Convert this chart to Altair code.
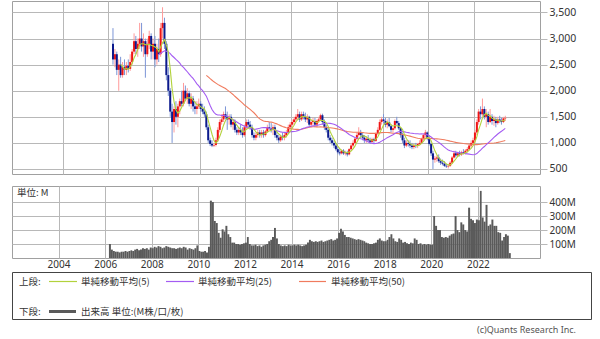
import altair as alt
import pandas as pd

# ---------------- data (monthly, 2006-03 .. 2023-05) ----------------
FIRST_MONTH = "2006-03-01"

OPEN = [
    2900, 2600, 2700, 2400, 2500, 2300, 2450, 2400, 2480, 2420,
    2550, 2750, 2950, 2800, 2900, 3000, 2850, 2950, 2700, 2900, 3050, 2750,
    2900, 2600, 2800, 2700, 3200, 3300, 2900, 2300, 2000, 1600, 1400, 1650,
    1500, 1700, 1800, 1750, 2000, 1850, 1950, 1750, 1850, 1700, 1650, 1700,
    1750, 1650, 1600, 1550, 1300, 1050, 980, 950, 960, 1050, 1250, 1400,
    1450, 1550, 1500, 1450, 1500, 1350, 1400, 1250, 1200, 1250, 1200, 1150,
    1300, 1400, 1350, 1300, 1150, 1100, 1150, 1200, 1150, 1200, 1150, 1220,
    1300, 1280, 1250, 1300, 1150, 1100, 1050, 1120, 1100, 1150, 1200, 1300,
    1350, 1400, 1450, 1500, 1550, 1450, 1550, 1500, 1450, 1500, 1350, 1400,
    1420, 1350, 1420, 1450, 1530, 1400, 1300, 1250, 1100, 1050, 1000, 950,
    880, 820, 800, 850, 800, 820, 780, 880, 950, 1000, 1080, 1150,
    1200, 1150, 1100, 1050, 1080, 1050, 1020, 1070, 1040, 1180, 1250, 1400,
    1450, 1420, 1350, 1400, 1320, 1250, 1280, 1420, 1380, 1280, 1150, 1050,
    950, 1000, 980, 950, 920, 950, 940, 980, 1000, 1080, 1150, 1200,
    1080, 980, 800, 680, 700, 720, 650, 620, 600, 560, 550, 560,
    620, 720, 800, 760, 800, 780, 820, 800, 850, 880, 950, 1000,
    1050, 1200, 1400, 1600, 1550, 1650, 1500, 1550, 1400, 1500, 1420, 1450,
    1380, 1450, 1420, 1400, 1470,
]
HIGH = [
    3200, 2800, 2750, 2600, 2650, 2550, 2600, 2550, 2600, 2700,
    2800, 3100, 3050, 3000, 3300, 3300, 3100, 3000, 3000, 3150, 3100, 3000,
    3050, 2900, 3000, 3300, 3600, 3400, 2950, 2450, 2050, 1750, 1700, 1800,
    1750, 1850, 2000, 2150, 2100, 2050, 2000, 1950, 1900, 1800, 1800, 1850,
    1800, 1750, 1700, 1600, 1350, 1100, 1050, 1000, 1100, 1300, 1450, 1550,
    1600, 1700, 1600, 1550, 1550, 1450, 1450, 1300, 1300, 1350, 1300, 1350,
    1450, 1450, 1420, 1350, 1200, 1200, 1250, 1250, 1250, 1250, 1250, 1350,
    1400, 1380, 1350, 1350, 1250, 1150, 1150, 1200, 1200, 1250, 1350, 1400,
    1450, 1500, 1550, 1650, 1600, 1600, 1600, 1580, 1550, 1520, 1450, 1480,
    1480, 1450, 1500, 1560, 1560, 1450, 1350, 1300, 1150, 1100, 1050, 1000,
    920, 880, 870, 880, 850, 850, 900, 1000, 1050, 1100, 1200, 1300,
    1250, 1200, 1150, 1120, 1150, 1100, 1100, 1100, 1200, 1300, 1450, 1500,
    1550, 1480, 1450, 1480, 1350, 1300, 1450, 1500, 1420, 1300, 1200, 1100,
    1050, 1050, 1050, 1000, 980, 1000, 1000, 1050, 1100, 1180, 1250, 1220,
    1150, 1000, 850, 750, 760, 780, 700, 680, 650, 600, 600, 650,
    750, 850, 850, 830, 850, 850, 880, 880, 920, 980, 1050, 1100,
    1250, 1450, 1650, 1700, 1850, 1700, 1650, 1600, 1650, 1550, 1520, 1500,
    1500, 1520, 1480, 1500, 1520,
]
LOW = [
    2500, 2450, 2300, 2000, 2250, 2250, 2300, 2300, 2350, 2380,
    2500, 2700, 2700, 2650, 2800, 2750, 2650, 2250, 2650, 2800, 2600, 2600,
    2450, 2500, 2550, 2650, 3000, 2800, 2200, 1900, 1500, 1000, 1200, 1350,
    1300, 1550, 1700, 1700, 1800, 1750, 1700, 1650, 1600, 1550, 1550, 1650,
    1600, 1550, 1500, 1250, 1000, 940, 920, 920, 930, 1020, 1200, 1350,
    1400, 1450, 1250, 1350, 1300, 1250, 1200, 1150, 1150, 1150, 1100, 1120,
    1250, 1300, 1250, 1100, 1050, 1050, 1100, 1100, 1100, 1100, 1120, 1200,
    1250, 1200, 1150, 1100, 1050, 1000, 1020, 1050, 1050, 1100, 1180, 1250,
    1300, 1350, 1400, 1450, 1400, 1420, 1450, 1400, 1380, 1300, 1300, 1350,
    1300, 1300, 1380, 1420, 1350, 1250, 1200, 1050, 1000, 950, 900, 850,
    780, 760, 780, 770, 760, 740, 760, 860, 920, 980, 1050, 1120,
    1100, 1050, 1000, 1000, 1020, 980, 1000, 1000, 1020, 1150, 1230, 1350,
    1380, 1300, 1280, 1300, 1200, 1200, 1250, 1350, 1250, 1100, 1000, 900,
    920, 930, 900, 880, 880, 900, 900, 950, 980, 1050, 1100, 1050,
    950, 750, 500, 620, 640, 620, 580, 570, 540, 520, 510, 540,
    600, 700, 720, 730, 740, 750, 780, 780, 820, 860, 920, 950,
    1000, 1150, 1350, 1450, 1500, 1450, 1300, 1350, 1380, 1350, 1330, 1300,
    1350, 1380, 1350, 1380, 1420,
]
CLOSE = [
    2600, 2700, 2400, 2500, 2300, 2450, 2400, 2480, 2420, 2550,
    2750, 2950, 2800, 2900, 3000, 2850, 2950, 2700, 2900, 3050, 2750, 2900,
    2600, 2800, 2700, 3200, 3300, 2900, 2300, 2000, 1600, 1400, 1650, 1500,
    1700, 1800, 1750, 2000, 1850, 1950, 1750, 1850, 1700, 1650, 1700, 1750,
    1650, 1600, 1550, 1300, 1050, 980, 950, 960, 1050, 1250, 1400, 1450,
    1550, 1500, 1450, 1500, 1350, 1400, 1250, 1200, 1250, 1200, 1150, 1300,
    1400, 1350, 1300, 1150, 1100, 1150, 1200, 1150, 1200, 1150, 1220, 1300,
    1280, 1250, 1300, 1150, 1100, 1050, 1120, 1100, 1150, 1200, 1300, 1350,
    1400, 1450, 1500, 1550, 1450, 1550, 1500, 1450, 1500, 1350, 1400, 1420,
    1350, 1420, 1450, 1530, 1400, 1300, 1250, 1100, 1050, 1000, 950, 880,
    820, 800, 850, 800, 820, 780, 880, 950, 1000, 1080, 1150, 1200,
    1150, 1100, 1050, 1080, 1050, 1020, 1070, 1040, 1180, 1250, 1400, 1450,
    1420, 1350, 1400, 1320, 1250, 1280, 1420, 1380, 1280, 1150, 1050, 950,
    1000, 980, 950, 920, 950, 940, 980, 1000, 1080, 1150, 1200, 1080,
    980, 800, 680, 700, 720, 650, 620, 600, 560, 550, 560, 620,
    720, 800, 760, 800, 780, 820, 800, 850, 880, 950, 1000, 1050,
    1200, 1400, 1600, 1550, 1650, 1500, 1550, 1400, 1500, 1420, 1450, 1380,
    1450, 1420, 1400, 1470, 1480,
]
VOLUME_M = [
    100, 60, 50, 45, 45, 40, 45, 45, 50, 45,
    50, 55, 50, 60, 65, 55, 60, 70, 65, 70, 60, 75,
    70, 80, 75, 85, 80, 70, 75, 85, 80, 75, 70, 70,
    65, 70, 75, 70, 80, 75, 60, 70, 65, 60, 70, 90,
    50, 45, 45, 50, 40, 80, 410, 400, 265, 250, 180, 145,
    205, 190, 230, 170, 150, 110, 110, 100, 100, 95, 100, 105,
    110, 150, 100, 90, 90, 95, 85, 90, 80, 90, 95, 100,
    120, 130, 150, 215, 140, 100, 90, 85, 90, 85, 95, 90,
    90, 95, 90, 95, 90, 85, 90, 95, 110, 130, 120, 115,
    120, 115, 120, 125, 115, 120, 125, 130, 135, 125, 130, 140,
    180, 210, 190, 165, 150, 150, 145, 140, 135, 130, 135, 130,
    125, 120, 110, 105, 100, 100, 105, 110, 130, 140, 125, 120,
    120, 130, 150, 170, 140, 120, 115, 140, 130, 110, 115, 105,
    100, 110, 105, 140, 130, 100, 105, 95, 100, 95, 100, 95,
    95, 300, 230, 200, 200, 150, 145, 150, 145, 160, 170, 175,
    300, 200, 185, 255, 240, 200, 190, 360, 280, 270, 250, 275,
    270, 480, 290, 260, 380, 230, 240, 275, 230, 230, 185, 180,
    125, 150, 170, 160, 35,
]
PRICE_TICKS = [500, 1000, 1500, 2000, 2500, 3000, 3500]
VOLUME_TICKS = [100, 200, 300, 400]
YEAR_TICKS = list(range(2004, 2023, 2))

LEGEND_TOP = ["単純移動平均(5)", "単純移動平均(25)", "単純移動平均(50)"]
LEGEND_BOTTOM = "出来高 単位:(M株/口/枚)"

# ---------------- styles ----------------
GRID = "#b8b8b8"
BORDER = "#a0a0a0"
UP_BODY, DOWN_BODY = "#f01414", "#0c1a8c"
UP_WICK, DOWN_WICK = "#ff9a9a", "#7b95d6"
MA5_C, MA25_C, MA50_C = "#b2d23c", "#a45cf2", "#f07b5e"
VOL_C = "#5a5a5a"
TXT = "#333333"
CJK = "Noto Sans CJK JP"
LAT = "Noto Sans"

n = len(CLOSE)
start = pd.date_range(FIRST_MONTH, periods=n + 1, freq="MS")
df = pd.DataFrame({
    "start": start[:-1],
    "end": start[1:],
    "mid": start[:-1] + pd.Timedelta(days=14),
    "open": OPEN, "high": HIGH, "low": LOW, "close": CLOSE,
    "vol": VOLUME_M,
})
for c in ["start", "end", "mid"]:
    df[c] = df[c].dt.strftime("%Y-%m-%dT00:00:00")

xscale = alt.Scale(domain=[alt.DateTime(year=2002, month=1, date=1),
                           alt.DateTime(year=2024, month=9, date=1)])
tick_dates = [alt.DateTime(year=y, month=1, date=1) for y in YEAR_TICKS]

x_axis = alt.Axis(values=tick_dates, labels=False, ticks=False,
                  domain=False, grid=True, gridColor=GRID, title=None)
yscale = alt.Scale(domain=[404, 3720], nice=False, zero=False)
y_axis = alt.Axis(orient="right", values=PRICE_TICKS, format=",d", title=None,
                  domain=False, grid=True, gridColor=GRID, tickColor=GRID,
                  tickSize=7, labelPadding=2, labelFont=LAT, labelFontSize=10.5,
                  labelColor=TXT, labelOverlap=False)


def X():
    return alt.X("mid:T", scale=xscale, axis=x_axis)


def Y(field):
    return alt.Y(field, type="quantitative", scale=yscale, axis=y_axis)


base = alt.Chart(df)
updown = "datum.close >= datum.open"

wick = base.mark_rule(strokeWidth=1).encode(
    x=X(), y=Y("low"), y2="high:Q",
    color=alt.condition(updown, alt.value(UP_WICK), alt.value(DOWN_WICK)),
)
body = base.mark_bar(size=2).encode(
    x=X(), y=Y("open"), y2="close:Q",
    color=alt.condition(updown, alt.value(UP_BODY), alt.value(DOWN_BODY)),
)


def ma_line(period, color):
    return (
        base.transform_window(ma="mean(close)", cnt="count()",
                              frame=[-(period - 1), 0], sort=[{"field": "mid"}])
        .transform_filter(f"datum.cnt >= {period}")
        .mark_line(color=color, strokeWidth=1.1)
        .encode(x=X(), y=Y("ma"))
    )


price = alt.layer(wick, body, ma_line(50, MA50_C), ma_line(25, MA25_C),
                  ma_line(5, MA5_C)).properties(width=528, height=173)

# ---------------- volume ----------------
vol_bars = base.mark_bar(color=VOL_C).encode(
    x=alt.X("start:T", scale=xscale,
            axis=alt.Axis(values=tick_dates, format="%Y", labels=True, ticks=False,
                          domain=False, grid=True, gridColor=GRID, title=None,
                          labelFont=LAT, labelFontSize=10, labelColor=TXT,
                          labelPadding=1)),
    x2="end:T",
    y=alt.Y("vol:Q", scale=alt.Scale(domain=[0, 515], nice=False),
            axis=alt.Axis(orient="right", values=VOLUME_TICKS, title=None,
                          labelExpr="datum.value + 'M'", domain=False, grid=True,
                          gridColor=GRID, tickColor=GRID, tickSize=7, labelPadding=2,
                          labelFont=LAT, labelFontSize=10, labelColor=TXT,
                          labelOverlap=False)),
    y2=alt.datum(0),
)

# ---------------- legend box (drawn below the volume panel) ----------------
one = alt.Chart(pd.DataFrame({"k": [0]}))


def txt(s, x, y, font=CJK, size=9.5, color=TXT, align="left"):
    return one.mark_text(align=align, baseline="middle", font=font, fontSize=size,
                         color=color).encode(x=alt.value(x), y=alt.value(y),
                                             text=alt.value(s))


def seg(x1, x2, y, color, w=1.2):
    return one.mark_rule(color=color, strokeWidth=w).encode(
        x=alt.value(x1), x2=alt.value(x2), y=alt.value(y))


LY = 86.5  # legend box top, relative to the volume plot
box = one.mark_rect(fill="white", fillOpacity=0, stroke="#444444",
                    strokeWidth=1).encode(
    x=alt.value(0.5), x2=alt.value(579.5), y=alt.value(LY), y2=alt.value(LY + 47))

volume = alt.layer(
    vol_bars,
    txt("単位: M", 5, 7),
    box,
    txt("上段:", 7, LY + 9),
    seg(37, 65, LY + 9, MA5_C), txt(LEGEND_TOP[0], 69, LY + 9),
    seg(154, 182, LY + 9, MA25_C), txt(LEGEND_TOP[1], 186, LY + 9),
    seg(287, 314, LY + 9, MA50_C), txt(LEGEND_TOP[2], 319, LY + 9),
    txt("下段:", 7, LY + 39),
    seg(37, 64, LY + 39, VOL_C, 3), txt(LEGEND_BOTTOM, 69, LY + 39),
    txt("(c)Quants Research Inc.", 564, LY + 57, font=LAT, size=9,
        color="#555555", align="right"),
).properties(width=528, height=72)

chart = alt.vconcat(price, volume, spacing=10).properties(
    padding={"left": 11, "top": 0, "right": 0, "bottom": 0}
).configure_view(stroke=BORDER).configure_axis(labelOverlap=False)

chart.save("out.html", embed_options={"renderer": "svg", "actions": False})
